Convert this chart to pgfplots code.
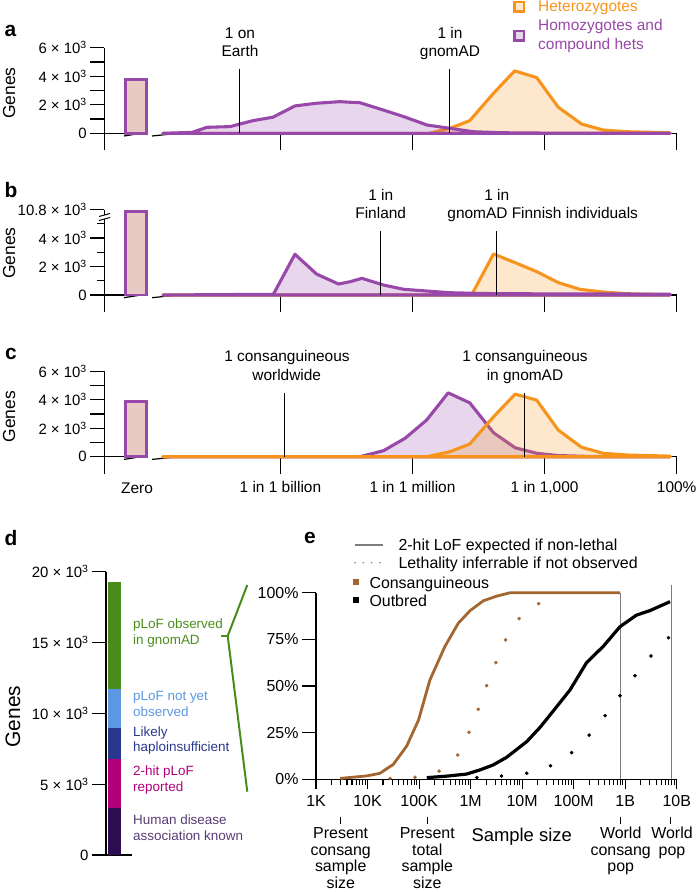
\documentclass[border=0pt]{standalone}
\usepackage{fontspec}
\setmainfont{Liberation Sans}
\usepackage{pgfplots}
\pgfplotsset{compat=1.18}

\definecolor{hom}{RGB}{152,72,168}
\definecolor{het}{RGB}{247,148,29}
\definecolor{zerofill}{RGB}{233,201,196}
\definecolor{cons}{RGB}{163,102,48}
\definecolor{legline}{RGB}{125,125,125}
\definecolor{dPur}{RGB}{45,12,82}
\definecolor{dMag}{RGB}{178,0,124}
\definecolor{dBlu}{RGB}{40,56,140}
\definecolor{dLbl}{RGB}{92,152,226}
\definecolor{dGrn}{RGB}{74,140,26}

\newcommand{\ten}[1]{#1 × 10\textsuperscript{3}}
% text line at baseline (x px, y px from top)
\newcommand{\T}[4][]{\node[anchor=base,inner sep=0,#1] at (#2bp,-#3bp) {#4};}
% x axis with a break after the "Zero" bar
\newcommand{\xbrk}[1]{%
  \begin{scope}[yshift=-#1bp, line width=1.2bp]
    \draw (104.3bp,0) -- (124bp,0);
    \draw (124bp,-2.7bp) -- (146bp,0.8bp);
    \draw (152bp,-2.7bp) -- (181bp,0.3bp);
    \draw (181bp,0) -- (676.7bp,0);
  \end{scope}}

\pgfplotsset{
  hist/.style={
    scale only axis, width=572.4bp, height=85.5bp,
    xmin=-13, xmax=0, ymin=0, ymax=6000, clip=false,
    axis y line*=left, axis x line*=bottom,
    x axis line style={draw=none},
    y axis line style={line width=1.2bp},
    tick style={black, line width=1.2bp},
    tick align=outside,
    xtick=\empty,
    minor xtick={-12,-11,-10,-8,-7,-5,-4,-2,-1},
    minor tick length=7bp,
    major tick length=14bp,
    extra x ticks={-13,-9,-6,-3,0},
    extra x tick labels={{},{},{},{},{}},
    extra x tick style={major tick length=17bp},
    ytick={0,1000,...,6000},
    scaled y ticks=false,
    yticklabel style={font=\fontsize{15}{18}\selectfont},
  },
  hetline/.style={het, line width=3.1bp, line join=round, fill=het, fill opacity=0.22},
  homline/.style={hom, line width=3.1bp, line join=round, fill=hom, fill opacity=0.22},
  zbar/.style={hom, line width=2.8bp, fill=zerofill},
}

\begin{document}
\begin{tikzpicture}[font=\fontsize{15.5}{18}\selectfont]
\path[use as bounding box] (0,0) rectangle (698bp,-892bp);

\xbrk{133.3}
\xbrk{295}
\xbrk{456.7}

% ---------------- panel a
\begin{axis}[hist, at={(104.3bp,-133.3bp)}, anchor=south west,
  yticklabels={0,{},\ten{2},{},\ten{4},{},\ten{6}}]
\addplot[zbar] coordinates {(-12.52,0) (-12.52,3800) (-12.05,3800) (-12.05,0)} \closedcycle;
\addplot[hetline] coordinates {
(-11.67,0) (-5.62,0) (-5.15,350) (-4.70,890) (-4.16,2810) (-3.68,4380) (-3.18,3910)
(-2.69,1830) (-2.16,650) (-1.67,230) (-1.13,110) (-0.15,40)} \closedcycle;
\addplot[homline] coordinates {
(-11.67,0) (-11.25,40) (-11.0,70) (-10.67,420) (-10.14,470) (-9.92,650) (-9.62,890)
(-9.17,1130) (-8.67,1920) (-8.18,2110) (-7.65,2220) (-7.42,2180) (-7.2,2150)
(-6.67,1640) (-6.2,1170) (-5.67,580) (-5.15,350) (-4.62,110) (-4.0,40) (-3.0,15) (-0.15,0)} \closedcycle;
\draw[line width=0.9bp] (axis cs:-9.92,0) -- (axis cs:-9.92,4500);
\draw[line width=0.9bp] (axis cs:-5.15,0) -- (axis cs:-5.15,4500);
\end{axis}

% ---------------- panel b
\begin{axis}[hist, at={(104.3bp,-295bp)}, anchor=south west,
  ytick={0,2000,4000,6000}, minor ytick={1000,3000,5000},
  yticklabels={0,\ten{2},\ten{4},\ten{10.8}}]
\addplot[zbar] coordinates {(-12.52,0) (-12.52,5880) (-12.05,5880) (-12.05,0)} \closedcycle;
\addplot[hetline] coordinates {
(-11.67,0) (-4.66,0) (-4.16,2880) (-3.63,2220) (-3.18,1640) (-2.69,870)
(-2.2,400) (-1.67,210) (-1.13,90) (-0.15,20)} \closedcycle;
\addplot[homline] coordinates {
(-11.67,0) (-9.16,50) (-8.67,2860) (-8.18,1470) (-7.68,770) (-7.42,930) (-7.15,1170)
(-6.66,700) (-6.2,400) (-5.68,280) (-5.15,160) (-4.62,120) (-4.0,90) (-0.15,60)} \closedcycle;
\draw[line width=0.9bp] (axis cs:-6.72,0) -- (axis cs:-6.72,4500);
\draw[line width=0.9bp] (axis cs:-4.09,0) -- (axis cs:-4.09,4500);
\end{axis}
% break on the y axis of panel b
\fill[white] (99bp,-216.5bp) -- (110bp,-213.5bp) -- (110bp,-217.5bp) -- (99bp,-220.5bp) -- cycle;
\draw[line width=1bp] (99bp,-216.5bp) -- (110bp,-213.5bp);
\draw[line width=1bp] (99bp,-220.5bp) -- (110bp,-217.5bp);

% ---------------- panel c
\begin{axis}[hist, at={(104.3bp,-456.7bp)}, anchor=south west,
  yticklabels={0,{},\ten{2},{},\ten{4},{},\ten{6}},
  extra x tick labels={{},{1 in 1 billion},{1 in 1 million},{1 in 1,000},{100\%}},
  extra x tick style={major tick length=17bp, tick label style={font=\fontsize{15.5}{18}\selectfont, yshift=-4bp}}]
\addplot[zbar] coordinates {(-12.52,0) (-12.52,3850) (-12.05,3850) (-12.05,0)} \closedcycle;
\addplot[homline] coordinates {
(-11.67,0) (-7.2,0) (-6.66,420) (-6.17,1290) (-5.68,2570) (-5.19,4480) (-4.70,3780)
(-4.16,1680) (-3.67,630) (-3.18,240) (-2.69,80) (-2.0,20) (-0.15,0)} \closedcycle;
\addplot[hetline] coordinates {
(-11.67,0) (-5.68,0) (-5.15,350) (-4.70,890) (-4.16,2800) (-3.67,4390) (-3.18,3970)
(-2.69,1870) (-2.16,660) (-1.67,240) (-1.13,120) (-0.15,40)} \closedcycle;
\draw[line width=0.9bp] (axis cs:-8.90,0) -- (axis cs:-8.90,4500);
\draw[line width=0.9bp] (axis cs:-3.46,0) -- (axis cs:-3.46,4500);
\end{axis}
\T{137}{493.3}{Zero}

% texts a-c
\T[font=\bfseries\fontsize{21}{21}\selectfont]{10.5}{36}{a}
\T[font=\bfseries\fontsize{21}{21}\selectfont]{11}{197}{b}
\T[font=\bfseries\fontsize{21}{21}\selectfont]{11}{359}{c}
\node[rotate=90, font=\fontsize{17.5}{20}\selectfont] at (9bp,-93bp) {Genes};
\node[rotate=90, font=\fontsize{17.5}{20}\selectfont] at (9bp,-253bp) {Genes};
\node[rotate=90, font=\fontsize{17.5}{20}\selectfont] at (9bp,-416.7bp) {Genes};
\T{240}{38.5}{1 on}
\T{240}{56.7}{Earth}
\T{450}{38.5}{1 in}
\T{450}{56.7}{gnomAD}
\T{380.7}{200}{1 in}
\T{380.7}{218.3}{Finland}
\T{496.7}{200}{1 in}
\T{542.7}{218.3}{gnomAD Finnish individuals}
\T{287}{361.7}{1 consanguineous}
\T{286.7}{380}{worldwide}
\T{525}{361.7}{1 consanguineous}
\T{525}{380}{in gnomAD}
% legend a
\draw[het, line width=2.5bp, fill=het!22] (514.5bp,-2.2bp) rectangle (523.8bp,-11.3bp);
\draw[hom, line width=2.5bp, fill=hom!22] (514.5bp,-31bp) rectangle (523.8bp,-40.3bp);
\T[anchor=base west, text=het]{538}{11}{Heterozygotes}
\T[anchor=base west, text=hom]{538}{30.7}{Homozygotes and}
\T[anchor=base west, text=hom]{538}{49.3}{compound hets}

% ---------------- panel d
\begin{axis}[at={(106bp,-855bp)}, anchor=south west, scale only axis,
  width=25.7bp, height=283.3bp, xmin=0, xmax=25.7, ymin=0, ymax=20000,
  axis y line*=left, axis x line*=bottom, axis line style={line width=1.2bp},
  tick style={black, line width=1.2bp}, tick align=outside, major tick length=14bp,
  xtick=\empty, ytick={0,5000,10000,15000,20000}, scaled y ticks=false,
  yticklabels={0,\ten{5},\ten{10},\ten{15},\ten{20}},
  yticklabel style={font=\fontsize{15}{18}\selectfont},
  ybar stacked, bar width=12.4bp]
\addplot[fill=dPur, draw=none] coordinates {(8.5,3300)};
\addplot[fill=dMag, draw=none] coordinates {(8.5,3450)};
\addplot[fill=dBlu, draw=none] coordinates {(8.5,2190)};
\addplot[fill=dLbl, draw=none] coordinates {(8.5,2780)};
\addplot[fill=dGrn, draw=none] coordinates {(8.5,7530)};
\end{axis}
\T[font=\bfseries\fontsize{21}{21}\selectfont]{11}{545}{d}
\node[rotate=90, font=\fontsize{21}{24}\selectfont] at (13bp,-716.7bp) {Genes};
\begin{scope}[font=\fontsize{13.5}{16}\selectfont]
\T[anchor=base west, text=dGrn]{133}{628.3}{pLoF observed}
\T[anchor=base west, text=dGrn]{133}{644}{in gnomAD}
\T[anchor=base west, text=dLbl]{133}{700.7}{pLoF not yet}
\T[anchor=base west, text=dLbl]{133}{716.7}{observed}
\T[anchor=base west, text=dBlu]{133}{736}{Likely}
\T[anchor=base west, text=dBlu]{133}{751.7}{haploinsufficient}
\T[anchor=base west, text=dMag]{133}{775.7}{2-hit pLoF}
\T[anchor=base west, text=dMag]{133}{791.7}{reported}
\T[anchor=base west, text=dPur!80!white]{133}{824.3}{Human disease}
\T[anchor=base west, text=dPur!80!white]{133}{840}{association known}
\end{scope}
\draw[dGrn, line width=2bp] (220.7bp,-636bp) -- (227.7bp,-636bp);
\draw[dGrn, line width=2bp] (247.3bp,-585bp) -- (227.7bp,-636bp) -- (247.3bp,-791.7bp);

% ---------------- panel e
\begin{axis}[at={(316bp,-779.3bp)}, anchor=south west, scale only axis,
  width=360.7bp, height=186.6bp, xmode=log, xmin=1e3, xmax=1e10, ymin=0, ymax=100,
  clip=false, axis x line*=bottom, axis y line*=left, axis line style={line width=1.2bp},
  tick style={black, line width=1.1bp}, tick align=outside,
  major tick length=10bp, minor tick length=6bp,
  xtick={1e3,1e4,1e5,1e6,1e7,1e8,1e9,1e10},
  xticklabels={1K,10K,100K,1M,10M,100M,1B,10B},
  minor xtick={2e3,3e3,4e3,5e3,6e3,7e3,8e3,9e3,2e4,3e4,4e4,5e4,6e4,7e4,8e4,9e4,
    2e5,3e5,4e5,5e5,6e5,7e5,8e5,9e5,2e6,3e6,4e6,5e6,6e6,7e6,8e6,9e6,
    2e7,3e7,4e7,5e7,6e7,7e7,8e7,9e7,2e8,3e8,4e8,5e8,6e8,7e8,8e8,9e8,
    2e9,3e9,4e9,5e9,6e9,7e9,8e9,9e9},
  xticklabel style={font=\fontsize{16}{18}\selectfont, yshift=-3bp},
  ytick=\empty, extra y ticks={0,25,50,75,100},
  extra y tick labels={0\%,25\%,50\%,75\%,100\%},
  extra y tick style={major tick length=14bp, tick label style={font=\fontsize{16}{18}\selectfont}}]
\draw[legline, line width=0.8bp] (axis cs:8.18e8,0) -- (axis cs:8.18e8,100);
\draw[legline, line width=0.8bp] (axis cs:7.73e9,0) -- (axis cs:7.73e9,104);
\addplot[cons, line width=2.8bp, line join=round] coordinates {
(2951,0.5) (9550,1.8) (17378,3.2) (31623,8.0) (57544,17.8) (97724,31.8) (162181,53.2)
(316228,71.1) (575440,83.6) (977237,90.4) (1778279,95.7) (3235937,98.2) (5888437,100)
(794328235,100)};
\addplot[cons, only marks, mark=*, mark size=1.6bp] coordinates {
(2.73e4,0.5) (8.32e4,1.1) (2.45e5,4.4) (5.62e5,13.0) (9.33e5,25.2) (1.41e6,37.5)
(2.04e6,50.2) (3.09e6,62.5) (4.79e6,74.7) (8.71e6,86.1) (2.09e7,94.1)};
\addplot[black, line width=3.2bp, line join=round] coordinates {
(1.41e5,0.9) (3.16e5,1.6) (8.32e5,2.8) (1.51e6,5.0) (2.75e6,7.7) (5.01e6,11.8)
(1.23e7,20.2) (2.24e7,27.9) (4.07e7,36.8) (8.51e7,47.9) (1.78e8,62.5) (3.80e8,71.4)
(7.94e8,81.8) (1.66e9,88.0) (3.02e9,90.4) (7.41e9,95.2)};
\addplot[black, only marks, mark=*, mark size=1.6bp] coordinates {
(1.32e6,0.9) (3.98e6,1.8) (1.23e7,3.2) (3.55e7,7.3) (9.12e7,14.3) (2.0e8,23.7)
(4.07e8,34.1) (7.94e8,44.8) (1.55e9,55.5) (3.16e9,66.1) (6.92e9,75.9)};
\draw[line width=0.9bp] (axis cs:3.01e3,-20) -- (axis cs:3.01e3,-24);
\draw[line width=0.9bp] (axis cs:1.45e5,-20) -- (axis cs:1.45e5,-24);
\draw[line width=0.9bp] (axis cs:8.18e8,-20) -- (axis cs:8.18e8,-24);
\draw[line width=0.9bp] (axis cs:7.73e9,-20) -- (axis cs:7.73e9,-24);
\end{axis}
\T[font=\bfseries\fontsize{21}{21}\selectfont]{310}{543}{e}
% legend e
\draw[legline, line width=2bp] (355bp,-545bp) -- (382.7bp,-545bp);
\foreach \xx in {355,363.3,371.7,380} \fill[legline] (\xx bp,-562.7bp) circle (0.8bp);
\fill[cons] (353bp,-579.3bp) rectangle (359bp,-585.3bp);
\fill[black] (353bp,-597bp) rectangle (359bp,-603bp);
\begin{scope}[font=\fontsize{16}{18}\selectfont]
\T[anchor=base west]{398.3}{550.7}{2-hit LoF expected if non-lethal}
\T[anchor=base west]{398.3}{568.3}{Lethality inferrable if not observed}
\T[anchor=base west]{369.3}{588.3}{Consanguineous}
\T[anchor=base west]{369.3}{606.7}{Outbred}
\T{340.7}{838}{Present}
\T{340.7}{855}{consang}
\T{340.7}{871.5}{sample}
\T{340.7}{888}{size}
\T{427.3}{838}{Present}
\T{427.3}{855}{total}
\T{427.3}{871.5}{sample}
\T{427.3}{888}{size}
\T{620.7}{838}{World}
\T{620.7}{855}{consang}
\T{620.7}{871.5}{pop}
\T{672}{838}{World}
\T{672}{855}{pop}
\end{scope}
\T[font=\fontsize{18.5}{20}\selectfont]{521.7}{841.5}{Sample size}
\end{tikzpicture}
\end{document}
